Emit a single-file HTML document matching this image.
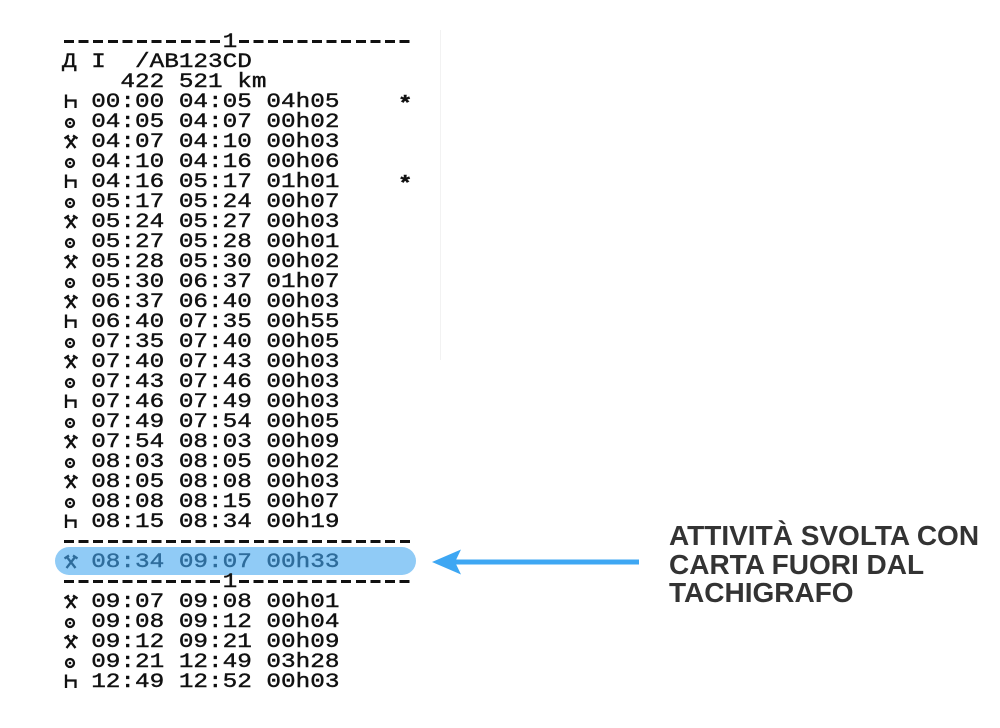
<!DOCTYPE html>
<html><head><meta charset="utf-8"><style>
html,body{margin:0;padding:0;background:#fff;}
body{width:1000px;height:728px;position:relative;overflow:hidden;}
.paper{position:absolute;left:0;top:0;width:460px;height:688px;overflow:hidden;}
.r{position:absolute;left:62px;font-family:"Liberation Mono","DejaVu Sans Mono",monospace;font-size:20.5px;line-height:20px;white-space:pre;transform:scaleX(1.187);transform-origin:0 0;color:#111;-webkit-text-stroke:0.4px #111;}
.st{position:relative;top:3px;font-weight:bold;}
.d{position:absolute;height:3px;background:repeating-linear-gradient(90deg,#111 0 10px,transparent 10px 14.6px);}
.pill{position:absolute;left:55px;top:547px;width:361px;height:28px;border-radius:14px;background:#90cbf6;}
.lbl{position:absolute;left:669px;top:522px;font-family:"Liberation Sans",Arial,sans-serif;font-weight:bold;font-size:28px;line-height:28.5px;color:#333;white-space:nowrap;}
.edge{position:absolute;left:440px;top:30px;width:1px;height:330px;background:#f2f2f2;}
</style></head><body>
<div class="paper">
<div class="edge"></div>
<div class="pill"></div>

<div class="d" style="left:64px;top:40px;width:156px;"></div>
<div class="d" style="left:239.2px;top:40px;width:170.6px;"></div>
<div class="d" style="left:64px;top:540px;width:345.8px;"></div>
<div class="d" style="left:64px;top:580px;width:156px;"></div>
<div class="d" style="left:239.2px;top:580px;width:170.6px;"></div>

<div class="r" style="top:32.6px">           1</div>
<div class="r" style="top:52.6px">Д I  /AB123CD</div>
<div class="r" style="top:72.6px">    422 521 km</div>

<div class="r" style="top:92.6px">  00:00 04:05 04h05    <span class="st">*</span></div>
<div class="r" style="top:112.6px">  04:05 04:07 00h02</div>
<div class="r" style="top:132.6px">  04:07 04:10 00h03</div>
<div class="r" style="top:152.6px">  04:10 04:16 00h06</div>
<div class="r" style="top:172.6px">  04:16 05:17 01h01    <span class="st">*</span></div>
<div class="r" style="top:192.6px">  05:17 05:24 00h07</div>
<div class="r" style="top:212.6px">  05:24 05:27 00h03</div>
<div class="r" style="top:232.6px">  05:27 05:28 00h01</div>
<div class="r" style="top:252.6px">  05:28 05:30 00h02</div>
<div class="r" style="top:272.6px">  05:30 06:37 01h07</div>
<div class="r" style="top:292.6px">  06:37 06:40 00h03</div>
<div class="r" style="top:312.6px">  06:40 07:35 00h55</div>
<div class="r" style="top:332.6px">  07:35 07:40 00h05</div>
<div class="r" style="top:352.6px">  07:40 07:43 00h03</div>
<div class="r" style="top:372.6px">  07:43 07:46 00h03</div>
<div class="r" style="top:392.6px">  07:46 07:49 00h03</div>
<div class="r" style="top:412.6px">  07:49 07:54 00h05</div>
<div class="r" style="top:432.6px">  07:54 08:03 00h09</div>
<div class="r" style="top:452.6px">  08:03 08:05 00h02</div>
<div class="r" style="top:472.6px">  08:05 08:08 00h03</div>
<div class="r" style="top:492.6px">  08:08 08:15 00h07</div>
<div class="r" style="top:512.6px">  08:15 08:34 00h19</div>
<div class="r" style="top:552.6px;color:#2e6c9b;-webkit-text-stroke:0.4px #2e6c9b">  08:34 09:07 00h33</div>
<div class="r" style="top:572.6px">           1</div>
<div class="r" style="top:592.6px">  09:07 09:08 00h01</div>
<div class="r" style="top:612.6px">  09:08 09:12 00h04</div>
<div class="r" style="top:632.6px">  09:12 09:21 00h09</div>
<div class="r" style="top:652.6px">  09:21 12:49 03h28</div>
<div class="r" style="top:672.6px">  12:49 12:52 00h03</div>

<svg width="460" height="688" style="position:absolute;left:0;top:0" fill="none" stroke="#111" stroke-width="2.3">
<path transform="translate(0,95)" d="M66 -0.5V13M66 5.5H75.5V13"/>
<path transform="translate(0,175)" d="M66 -0.5V13M66 5.5H75.5V13"/>
<path transform="translate(0,315)" d="M66 -0.5V13M66 5.5H75.5V13"/>
<path transform="translate(0,395)" d="M66 -0.5V13M66 5.5H75.5V13"/>
<path transform="translate(0,515)" d="M66 -0.5V13M66 5.5H75.5V13"/>
<path transform="translate(0,675)" d="M66 -0.5V13M66 5.5H75.5V13"/>
<g transform="translate(0,115)"><circle cx="70" cy="8" r="4"/><circle cx="70" cy="8" r="1.3" fill="#111" stroke="none"/></g>
<g transform="translate(0,155)"><circle cx="70" cy="8" r="4"/><circle cx="70" cy="8" r="1.3" fill="#111" stroke="none"/></g>
<g transform="translate(0,195)"><circle cx="70" cy="8" r="4"/><circle cx="70" cy="8" r="1.3" fill="#111" stroke="none"/></g>
<g transform="translate(0,235)"><circle cx="70" cy="8" r="4"/><circle cx="70" cy="8" r="1.3" fill="#111" stroke="none"/></g>
<g transform="translate(0,275)"><circle cx="70" cy="8" r="4"/><circle cx="70" cy="8" r="1.3" fill="#111" stroke="none"/></g>
<g transform="translate(0,335)"><circle cx="70" cy="8" r="4"/><circle cx="70" cy="8" r="1.3" fill="#111" stroke="none"/></g>
<g transform="translate(0,375)"><circle cx="70" cy="8" r="4"/><circle cx="70" cy="8" r="1.3" fill="#111" stroke="none"/></g>
<g transform="translate(0,415)"><circle cx="70" cy="8" r="4"/><circle cx="70" cy="8" r="1.3" fill="#111" stroke="none"/></g>
<g transform="translate(0,455)"><circle cx="70" cy="8" r="4"/><circle cx="70" cy="8" r="1.3" fill="#111" stroke="none"/></g>
<g transform="translate(0,495)"><circle cx="70" cy="8" r="4"/><circle cx="70" cy="8" r="1.3" fill="#111" stroke="none"/></g>
<g transform="translate(0,615)"><circle cx="70" cy="8" r="4"/><circle cx="70" cy="8" r="1.3" fill="#111" stroke="none"/></g>
<g transform="translate(0,655)"><circle cx="70" cy="8" r="4"/><circle cx="70" cy="8" r="1.3" fill="#111" stroke="none"/></g>
<path transform="translate(0,135)" d="M64.5 3.5L69 0.5M73 0.5L77.5 3.5M66.5 1.5L75.5 13M75.5 1.5L66.5 13"/>
<path transform="translate(0,215)" d="M64.5 3.5L69 0.5M73 0.5L77.5 3.5M66.5 1.5L75.5 13M75.5 1.5L66.5 13"/>
<path transform="translate(0,255)" d="M64.5 3.5L69 0.5M73 0.5L77.5 3.5M66.5 1.5L75.5 13M75.5 1.5L66.5 13"/>
<path transform="translate(0,295)" d="M64.5 3.5L69 0.5M73 0.5L77.5 3.5M66.5 1.5L75.5 13M75.5 1.5L66.5 13"/>
<path transform="translate(0,355)" d="M64.5 3.5L69 0.5M73 0.5L77.5 3.5M66.5 1.5L75.5 13M75.5 1.5L66.5 13"/>
<path transform="translate(0,435)" d="M64.5 3.5L69 0.5M73 0.5L77.5 3.5M66.5 1.5L75.5 13M75.5 1.5L66.5 13"/>
<path transform="translate(0,475)" d="M64.5 3.5L69 0.5M73 0.5L77.5 3.5M66.5 1.5L75.5 13M75.5 1.5L66.5 13"/>
<path transform="translate(0,555)" stroke="#2e6c9b" d="M64.5 3.5L69 0.5M73 0.5L77.5 3.5M66.5 1.5L75.5 13M75.5 1.5L66.5 13"/>
<path transform="translate(0,595)" d="M64.5 3.5L69 0.5M73 0.5L77.5 3.5M66.5 1.5L75.5 13M75.5 1.5L66.5 13"/>
<path transform="translate(0,635)" d="M64.5 3.5L69 0.5M73 0.5L77.5 3.5M66.5 1.5L75.5 13M75.5 1.5L66.5 13"/>
</svg>
</div>

<svg width="1000" height="728" style="position:absolute;left:0;top:0">
<line x1="452" y1="562" x2="639" y2="562" stroke="#3ea7f3" stroke-width="5"/>
<polygon points="432,562 461,549.5 455,562 461,574.5" fill="#3ea7f3"/>
</svg>

<div class="lbl">ATTIVITÀ SVOLTA CON<br>CARTA FUORI DAL<br>TACHIGRAFO</div>
</body></html>
